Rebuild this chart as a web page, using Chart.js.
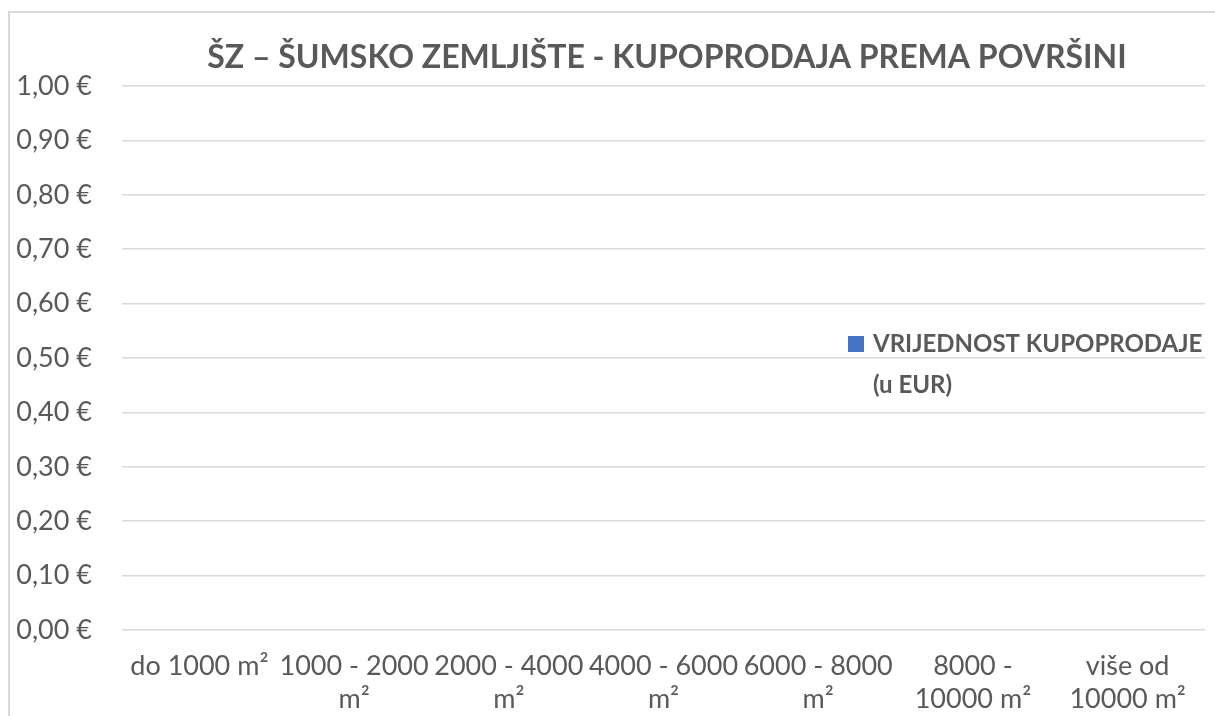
<!DOCTYPE html>
<html>
<head>
<meta charset="utf-8">
<title>ŠZ – Šumsko zemljište</title>
<script src="https://cdn.jsdelivr.net/npm/chart.js@4"></script>
<style>
  html, body { margin: 0; padding: 0; background: #fff; }
  #wrap { width: 1215px; height: 716px; position: relative; }
</style>
</head>
<body>
<div id="wrap"><canvas id="grafikon"></canvas></div>
<script>
const naslov = 'ŠZ – ŠUMSKO ZEMLJIŠTE - KUPOPRODAJA PREMA POVRŠINI';
const kategorije = [
  ['do 1000 m²'],
  ['1000 - 2000', 'm²'],
  ['2000 - 4000', 'm²'],
  ['4000 - 6000', 'm²'],
  ['6000 - 8000', 'm²'],
  ['8000 -', '10000 m²'],
  ['više od', '10000 m²']
];
const nazivSerije = 'VRIJEDNOST KUPOPRODAJE (u EUR)';
// nema prikazanih stupaca - sve vrijednosti su 0
const vrijednosti = [0, 0, 0, 0, 0, 0, 0];
const yMin = 0;
const yMax = 1;
const yKorak = 0.1;

const sivaTekst = '#595959';
const sivaLinija = '#d9d9d9';
const plava = '#4472C4';
const font = 'Lato, "Open Sans", sans-serif';

function formatEur(v) {
  return v.toFixed(2).replace('.', ',') + ' €';
}

// okvir, naslov i legenda (legenda lebdi iznad područja grafa kao u Excelu)
const dodaci = {
  id: 'dodaci',
  beforeDraw(chart) {
    const ctx = chart.ctx;
    ctx.save();
    ctx.strokeStyle = sivaLinija;
    ctx.lineWidth = 2;
    ctx.beginPath();
    ctx.moveTo(9, chart.height);
    ctx.lineTo(9, 12);
    ctx.lineTo(chart.width, 12);
    ctx.stroke();
    ctx.restore();
  },
  afterDraw(chart) {
    const ctx = chart.ctx;
    ctx.save();
    ctx.fillStyle = sivaTekst;
    ctx.font = 'bold 32px ' + font;
    ctx.textAlign = 'center';
    ctx.textBaseline = 'alphabetic';
    ctx.fillText(naslov, 667, 68);

    const ds = chart.data.datasets[0];
    ctx.font = 'bold 24px ' + font;
    ctx.textAlign = 'left';
    // prelamanje naziva serije
    const rijeci = ds.label.split(' ');
    const redovi = [];
    let red = '';
    rijeci.forEach(r => {
      const probni = red ? red + ' ' + r : r;
      if (ctx.measureText(probni).width > 345 && red) {
        redovi.push(red);
        red = r;
      } else {
        red = probni;
      }
    });
    redovi.push(red);
    ctx.fillStyle = ds.backgroundColor;
    ctx.fillRect(848, 336, 16, 16);
    ctx.fillStyle = sivaTekst;
    redovi.forEach((t, i) => ctx.fillText(t, 873, 352 + i * 41));
    ctx.restore();
  }
};

new Chart(document.getElementById('grafikon'), {
  type: 'bar',
  data: {
    labels: kategorije,
    datasets: [{
      label: nazivSerije,
      data: vrijednosti,
      backgroundColor: plava,
      borderWidth: 0
    }]
  },
  options: {
    responsive: true,
    maintainAspectRatio: false,
    animation: false,
    layout: { padding: { top: 86, right: 10, bottom: 0, left: 0 } },
    plugins: {
      legend: { display: false },
      title: { display: false },
      tooltip: { enabled: false }
    },
    scales: {
      x: {
        afterFit(scale) { scale.height = 86; },
        grid: { display: false, drawTicks: false },
        border: { display: false },
        ticks: {
          color: sivaTekst,
          font: { family: font, size: 27, lineHeight: 1.22 },
          padding: 20,
          maxRotation: 0,
          autoSkip: false
        }
      },
      y: {
        min: yMin,
        max: yMax,
        afterFit(scale) { scale.width = 122; },
        grid: { color: sivaLinija, lineWidth: 1.5, drawTicks: false },
        border: { display: false },
        ticks: {
          stepSize: yKorak,
          color: sivaTekst,
          font: { family: font, size: 27 },
          padding: 30,
          callback: v => formatEur(v)
        }
      }
    }
  },
  plugins: [dodaci]
});
</script>
</body>
</html>
